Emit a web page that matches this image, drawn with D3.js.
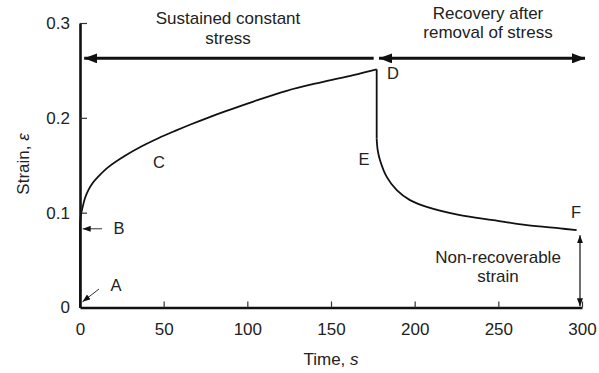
<!DOCTYPE html>
<html>
<head>
<meta charset="utf-8">
<script src="https://cdn.jsdelivr.net/npm/d3@7"></script>
<style>
  html, body { margin: 0; padding: 0; background: #fff; }
  svg { display: block; }
  text { font-family: Arial, "Liberation Sans", Helvetica, sans-serif; fill: #222; }
</style>
</head>
<body>
<svg id="chart" width="599" height="373"></svg>
<script>
// Creep under sustained constant stress (time in s, strain)
const creepTime   = [0, 0, 0.6, 1.6, 3.0, 5.0, 7.8, 10.9, 16.9, 26.9, 36.9, 46.8, 56.8, 66.8, 76.7, 86.7, 103.6, 123.5, 143.4, 163.3, 177.3];
const creepStrain = [0, 0.088, 0.098, 0.106, 0.1155, 0.1238, 0.1318, 0.1380, 0.1480, 0.1600, 0.1700, 0.1785, 0.1862, 0.1935, 0.2003, 0.2068, 0.2172, 0.2285, 0.2372, 0.2450, 0.2511];

// Recovery after the stress is removed
const recoveryTime   = [177.3, 177.3, 177.9, 179.3, 183.3, 189.3, 197.2, 207.2, 227.1, 247.0, 267.0, 286.9, 296.8];
const recoveryStrain = [0.2511, 0.178, 0.166, 0.1553, 0.1377, 0.1237, 0.1132, 0.1061, 0.0974, 0.0921, 0.0868, 0.0834, 0.0816];

const xTicks = [0, 50, 100, 150, 200, 250, 300];
const yTicks = [0, 0.1, 0.2, 0.3];

const svg = d3.select("#chart");

const x = d3.scaleLinear().domain([0, 300]).range([80, 582]);
const y = d3.scaleLinear().domain([0, 0.3]).range([307.5, 23]);

// arrowhead markers
const defs = svg.append("defs");
function marker(id, len, wid) {
  defs.append("marker")
    .attr("id", id)
    .attr("viewBox", `0 ${-wid / 2} ${len} ${wid}`)
    .attr("refX", len).attr("refY", 0)
    .attr("markerWidth", len).attr("markerHeight", wid)
    .attr("markerUnits", "userSpaceOnUse")
    .attr("orient", "auto-start-reverse")
    .append("path")
    .attr("d", `M0,${-wid / 2}L${len},0L0,${wid / 2}Z`)
    .attr("fill", "#111");
}
marker("bigHead", 13, 10);
marker("smallHead", 8, 6);

// axes
const xAxis = d3.axisBottom(x).tickValues(xTicks).tickSizeInner(-6).tickSizeOuter(0).tickPadding(15);
const yAxis = d3.axisLeft(y).tickValues(yTicks).tickSizeInner(-7).tickSizeOuter(0).tickPadding(10)
  .tickFormat(d => d === 0 ? "0" : d3.format(".1f")(d));

const gx = svg.append("g").attr("transform", `translate(0,${y(0)})`).call(xAxis);
const gy = svg.append("g").attr("transform", `translate(${x(0)},0)`).call(yAxis);

[gx, gy].forEach(g => {
  g.select(".domain").attr("stroke", "#111").attr("stroke-width", 2.6);
  g.selectAll(".tick line").attr("stroke", "#333").attr("stroke-width", 1.2);
  g.selectAll(".tick text").attr("font-size", 17).attr("fill", "#222")
    .style("font-family", "Arial, 'Liberation Sans', sans-serif");
});
gx.selectAll(".tick").filter(d => d === 0).select("line").remove();
gy.selectAll(".tick").filter(d => d === 0).select("line").remove();

// axis titles
const xTitle = svg.append("text")
  .attr("x", 331).attr("y", 365)
  .attr("text-anchor", "middle").attr("font-size", 17);
xTitle.append("tspan").text("Time, ");
xTitle.append("tspan").attr("font-style", "italic").text("s");

const yTitle = svg.append("text")
  .attr("transform", "translate(29,164) rotate(-90)")
  .attr("text-anchor", "middle").attr("font-size", 17);
yTitle.append("tspan").text("Strain, ");
yTitle.append("tspan").attr("font-style", "italic").text("ε");

// strain curves
const creep = creepTime.map((t, i) => [t, creepStrain[i]]);
const recovery = recoveryTime.map((t, i) => [t, recoveryStrain[i]]);

const lin = d3.line().x(d => x(d[0])).y(d => y(d[1]));
const smooth = d3.line().x(d => x(d[0])).y(d => y(d[1])).curve(d3.curveCatmullRom.alpha(0.5));

function drawSegment(pts) {
  // first two points are the instantaneous (vertical) step, the rest the smooth curve
  svg.append("path").attr("d", lin(pts.slice(0, 2)))
    .attr("fill", "none").attr("stroke", "#111").attr("stroke-width", 1.8);
  svg.append("path").attr("d", smooth(pts.slice(1)))
    .attr("fill", "none").attr("stroke", "#111").attr("stroke-width", 1.8)
    .attr("stroke-linejoin", "round");
}
drawSegment(creep);
drawSegment(recovery);

// phase arrows along the top
const phaseY = y(0.2627);
svg.append("line")
  .attr("x1", x(175.5)).attr("x2", x(2.5)).attr("y1", phaseY).attr("y2", phaseY)
  .attr("stroke", "#111").attr("stroke-width", 3)
  .attr("marker-end", "url(#bigHead)");
svg.append("line")
  .attr("x1", x(178.7)).attr("x2", x(301.8)).attr("y1", phaseY).attr("y2", phaseY)
  .attr("stroke", "#111").attr("stroke-width", 3)
  .attr("marker-start", "url(#bigHead)").attr("marker-end", "url(#bigHead)");

function label(lines, cx, baseline, size, step) {
  const t = svg.append("text").attr("text-anchor", "middle").attr("font-size", size);
  lines.forEach((s, i) => t.append("tspan").attr("x", cx).attr("y", baseline + i * step).text(s));
}
label(["Sustained constant", "stress"], 228, 24, 17, 19.5);
label(["Recovery after", "removal of stress"], 488, 19, 17, 18.5);
label(["Non-recoverable", "strain"], 498, 263, 17, 19);

// non-recoverable strain arrow
svg.append("line")
  .attr("x1", x(298.8)).attr("x2", x(298.8)).attr("y1", y(0.0763)).attr("y2", y(0.0012))
  .attr("stroke", "#222").attr("stroke-width", 1.3)
  .attr("marker-start", "url(#smallHead)").attr("marker-end", "url(#smallHead)");

// point labels
const points = [
  { name: "A", x: 116, y: 291 },
  { name: "B", x: 119, y: 234 },
  { name: "C", x: 159, y: 168 },
  { name: "D", x: 393, y: 79 },
  { name: "E", x: 364, y: 165 },
  { name: "F", x: 576, y: 218 }
];
svg.selectAll(".pt").data(points).join("text")
  .attr("class", "pt")
  .attr("x", d => d.x).attr("y", d => d.y)
  .attr("text-anchor", "middle").attr("font-size", 16.5)
  .text(d => d.name);

// pointers to A and B
svg.append("line")
  .attr("x1", 99).attr("y1", 289).attr("x2", x(1.5)).attr("y2", y(0.006))
  .attr("stroke", "#333").attr("stroke-width", 1)
  .attr("marker-end", "url(#smallHead)");
svg.append("line")
  .attr("x1", 102).attr("y1", y(0.083)).attr("x2", x(1.6)).attr("y2", y(0.083))
  .attr("stroke", "#333").attr("stroke-width", 1)
  .attr("marker-end", "url(#smallHead)");
</script>
</body>
</html>
